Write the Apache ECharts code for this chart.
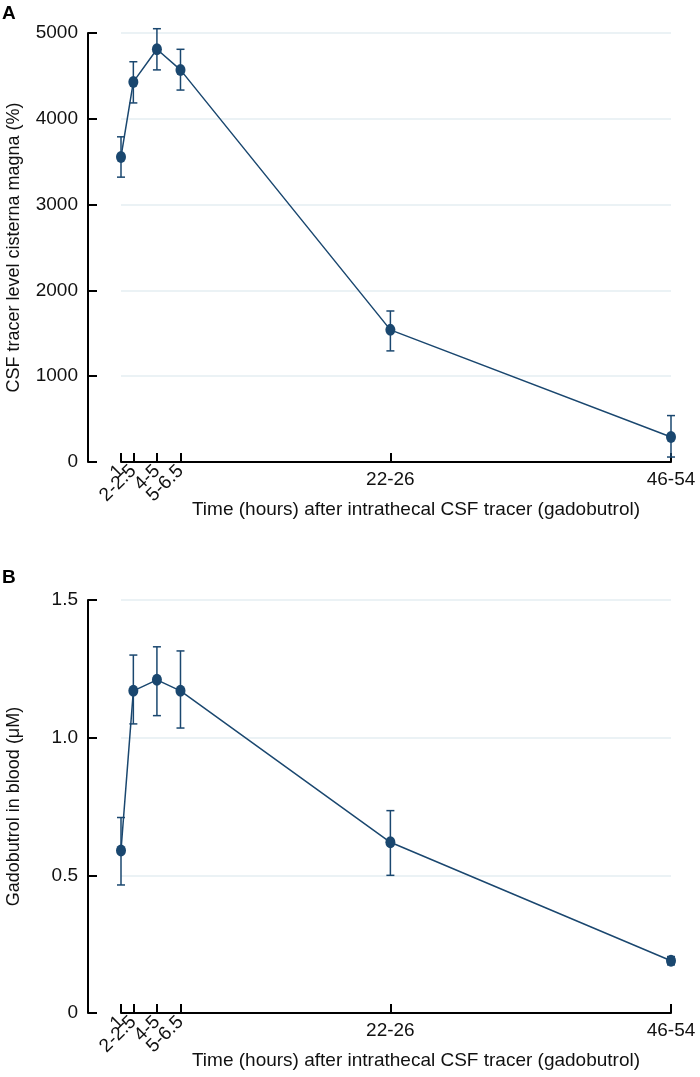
<!DOCTYPE html>
<html>
<head>
<meta charset="utf-8">
<script src="https://cdn.jsdelivr.net/npm/echarts@6/dist/echarts.min.js"></script>
<style>
  html, body { margin: 0; padding: 0; background: #fff; }
  #chart { width: 700px; height: 1077px; }
</style>
</head>
<body>
<div id="chart"></div>
<script>
// time points (hours) and their tick labels
var xVals = [1, 2.1, 4.2, 6.3, 25, 50];
var xLabels = ['1', '2-2.5', '4-5', '5-6.5', '22-26', '46-54'];

// A: CSF tracer level cisterna magna (%)
var csfMean = [3555, 4430, 4810, 4570, 1540, 292];
var csfLow  = [3320, 4185, 4570, 4335, 1295, 58];
var csfHigh = [3790, 4665, 5050, 4810, 1760, 541];

// B: gadobutrol in blood (uM)
var bloodMean = [0.59, 1.17, 1.21, 1.17, 0.62, 0.19];
var bloodLow  = [0.465, 1.05, 1.08, 1.035, 0.50, 0.175];
var bloodHigh = [0.71, 1.30, 1.33, 1.315, 0.735, 0.205];

var navy = '#1a476f';
var font = '"Liberation Sans", Arial, Helvetica, sans-serif';
var xTitle = 'Time (hours) after intrathecal CSF tracer (gadobutrol)';

function pairs(ys) {
    return xVals.map(function (x, i) { return [x, ys[i]]; });
}
function errData(lo, hi) {
    return xVals.map(function (x, i) { return [x, lo[i], hi[i]]; });
}
function labelFor(v) {
    var i = xVals.indexOf(v);
    return i < 0 ? '' : xLabels[i];
}

function renderErr(params, api) {
    var lo = api.coord([api.value(0), api.value(1)]);
    var hi = api.coord([api.value(0), api.value(2)]);
    var w = 4;
    var st = { stroke: navy, lineWidth: 1.5 };
    return {
        type: 'group',
        children: [
            { type: 'line', shape: { x1: lo[0], y1: lo[1], x2: hi[0], y2: hi[1] }, style: st },
            { type: 'line', shape: { x1: lo[0] - w, y1: lo[1], x2: lo[0] + w, y2: lo[1] }, style: st },
            { type: 'line', shape: { x1: hi[0] - w, y1: hi[1], x2: hi[0] + w, y2: hi[1] }, style: st }
        ]
    };
}

// label-only axis laid over the real one (one set of labels per axis so none get hidden)
function labelAxis(g, vals, rot, margin) {
    return {
        type: 'value', gridIndex: g, min: 1, max: 50, position: 'bottom', offset: 0,
        axisLine: { show: false }, axisTick: { show: false },
        axisLabel: {
            customValues: vals, rotate: rot, margin: margin, interval: 0, hideOverlap: false,
            color: '#111', fontSize: 19, fontFamily: font, formatter: labelFor
        },
        splitLine: { show: false }
    };
}

function xAxesFor(g) {
    var main = labelAxis(g, [xVals[0], xVals[2]], 45, 6);
    main.axisLine = { show: true, lineStyle: { color: '#000', width: 2 } };
    main.axisTick = { show: true, inside: true, length: 9, customValues: xVals, lineStyle: { color: '#000', width: 2 } };
    var flat = labelAxis(g, xVals.slice(4), 0, 8);
    flat.name = xTitle;
    flat.nameLocation = 'middle';
    flat.nameGap = 38;
    flat.nameTextStyle = { color: '#111', fontSize: 19, fontFamily: font, padding: [0, 0, 0, 40] };
    return [main, labelAxis(g, [xVals[1], xVals[3]], 45, 6), flat];
}

function yAxisFor(g, max, step, name, fmt) {
    return {
        type: 'value', gridIndex: g, min: 0, max: max, interval: step, offset: 33,
        axisLine: { show: true, lineStyle: { color: '#000', width: 2 } },
        axisTick: { show: true, inside: true, length: 9, lineStyle: { color: '#000', width: 2 } },
        axisLabel: { margin: 10, color: '#111', fontSize: 19, fontFamily: font, formatter: fmt },
        splitLine: { show: true, lineStyle: { color: '#e4eef2', width: 1.5 } },
        name: name, nameLocation: 'middle', nameGap: 65,
        nameTextStyle: { color: '#111', fontSize: 18, fontFamily: font }
    };
}

var chart = echarts.init(document.getElementById('chart'));
chart.setOption({
    animation: false,
    backgroundColor: '#fff',
    grid: [
        { left: 121, right: 29, top: 33, bottom: 615, outerBoundsMode: 'none' },
        { left: 121, right: 29, top: 600, bottom: 64, outerBoundsMode: 'none' }
    ],
    graphic: [
        { type: 'text', left: 2, top: 4, style: { text: 'A', fontSize: 19, fontWeight: 'bold', fontFamily: font, fill: '#000' } },
        { type: 'text', left: 2, top: 568, style: { text: 'B', fontSize: 19, fontWeight: 'bold', fontFamily: font, fill: '#000' } }
    ],
    xAxis: xAxesFor(0).concat(xAxesFor(1)),
    yAxis: [
        yAxisFor(0, 5000, 1000, 'CSF tracer level cisterna magna (%)', function (v) { return String(v); }),
        yAxisFor(1, 1.5, 0.5, 'Gadobutrol in blood (\u03bcM)', function (v) { return v === 0 ? '0' : v.toFixed(1); })
    ],
    series: [
        {
            type: 'custom', xAxisIndex: 0, yAxisIndex: 0, renderItem: renderErr,
            data: errData(csfLow, csfHigh), z: 2
        },
        {
            type: 'line', xAxisIndex: 0, yAxisIndex: 0, data: pairs(csfMean),
            symbol: 'circle', symbolSize: [10, 12], itemStyle: { color: navy },
            lineStyle: { color: navy, width: 1.5 }, z: 3
        },
        {
            type: 'custom', xAxisIndex: 3, yAxisIndex: 1, renderItem: renderErr,
            data: errData(bloodLow, bloodHigh), z: 2
        },
        {
            type: 'line', xAxisIndex: 3, yAxisIndex: 1, data: pairs(bloodMean),
            symbol: 'circle', symbolSize: [10, 12], itemStyle: { color: navy },
            lineStyle: { color: navy, width: 1.5 }, z: 3
        }
    ]
});
</script>
</body>
</html>
